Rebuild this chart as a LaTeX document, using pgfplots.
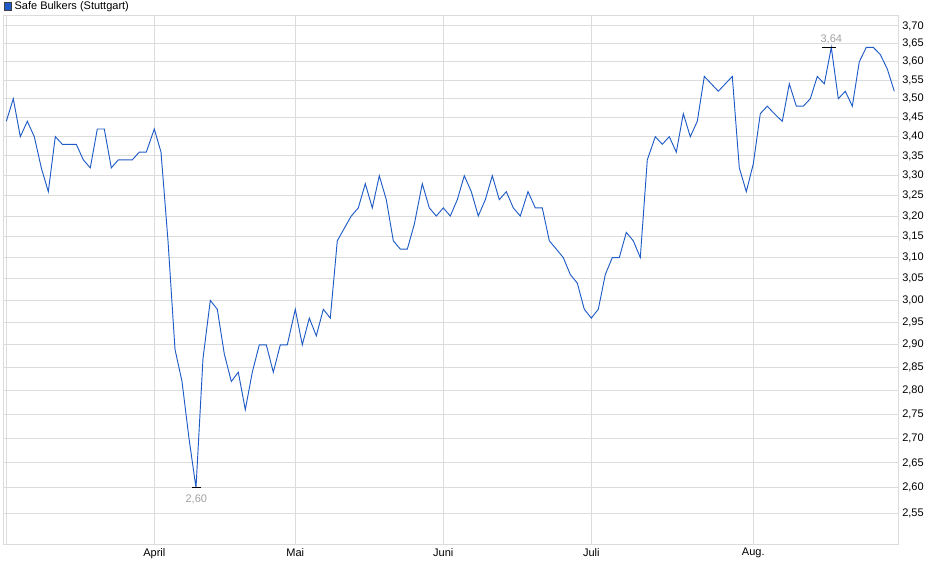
\documentclass[border=0pt]{standalone}
\usepackage{fontspec}
\setmainfont{Liberation Sans}
\usepackage{pgfplots}
\pgfplotsset{compat=1.18}

\definecolor{gridgray}{HTML}{DCDCDC}
\definecolor{lineblue}{HTML}{1F5BC6}
\definecolor{notegray}{HTML}{A0A0A0}

\newcommand{\chartfont}{\fontsize{8.25}{10}\selectfont}

\begin{document}
\begin{tikzpicture}
% page = 940 x 579 px, 1px = 0.75pt
\useasboundingbox (0,0) rectangle (705pt,-434.25pt);
\begin{axis}[
    at={(2.25pt,-408.75pt)}, anchor=south west,
    scale only axis,
    width=671.25pt, height=396.75pt,
    xmin=3, xmax=898,
    ymode=log,
    ymin=2.489, ymax=3.7284,
    clip=false,
    axis line style={draw=gridgray, line width=0.75pt},
    major tick length=0pt,
    grid=major,
    grid style={gridgray, line width=0.75pt},
    xtick={154.3,295.3,443.3,591.3,753.3},
    xticklabels={April,Mai,Juni,Juli,Aug.},
    extra x ticks={6.3},
    extra x tick labels={},
    xticklabel style={font=\chartfont, inner sep=0pt, anchor=north, yshift=-2.2pt},
    ytick={2.55,2.60,2.65,2.70,2.75,2.80,2.85,2.90,2.95,3.00,3.05,3.10,3.15,3.20,3.25,3.30,3.35,3.40,3.45,3.50,3.55,3.60,3.65,3.70},
    yticklabels={{2,55},{2,60},{2,65},{2,70},{2,75},{2,80},{2,85},{2,90},{2,95},{3,00},{3,05},{3,10},{3,15},{3,20},{3,25},{3,30},{3,35},{3,40},{3,45},{3,50},{3,55},{3,60},{3,65},{3,70}},
    yticklabel pos=right,
    yticklabel style={font=\chartfont, inner sep=0pt, anchor=west, xshift=3pt},
    legend style={at={(0,1)}, anchor=south west, draw=none, fill=none,
        inner sep=0pt, outer sep=0pt, yshift=1.3pt, xshift=0.6pt, font=\chartfont,
        cells={anchor=west},
        /tikz/every even column/.append style={column sep=3pt}},
    legend image code/.code={\draw[draw=black!75, fill=lineblue, line width=0.5pt] (0pt,-2.6pt) rectangle (5.6pt,3.2pt);},
]
\addplot[lineblue, line width=0.7pt, mark=none] coordinates {
(6.3,3.44) (13.3,3.50) (20.3,3.40) (27.3,3.44) (34.3,3.40) (41.3,3.32)
(48.3,3.26) (55.3,3.40) (62.3,3.38) (69.3,3.38) (76.3,3.38) (83.3,3.34)
(90.3,3.32) (97.3,3.42) (104.3,3.42) (111.3,3.32) (118.3,3.34) (125.3,3.34)
(132.3,3.34) (139.3,3.36) (146.3,3.36) (154.3,3.42) (161,3.36) (168,3.14)
(175,2.89) (182,2.82) (189,2.70) (196,2.60) (203,2.87) (210.3,3.00)
(217.3,2.98) (224.3,2.88) (231.3,2.82) (238.3,2.84) (245.3,2.76) (252.3,2.84)
(259.3,2.90) (266.3,2.90) (273.3,2.84) (280.3,2.90) (287.3,2.90) (295.3,2.98)
(302.3,2.90) (309.3,2.96) (316.3,2.92) (323.3,2.98) (330.3,2.96) (337.3,3.14)
(344.3,3.17) (351.3,3.20) (358.3,3.22) (365.3,3.28) (372.3,3.22) (379.3,3.30)
(386.3,3.24) (393.3,3.14) (400.3,3.12) (407.3,3.12) (414.3,3.18) (422.3,3.28)
(429.3,3.22) (436.3,3.20) (443.3,3.22) (450.3,3.20) (457.3,3.24) (464.3,3.30)
(471.3,3.26) (478.3,3.20) (485.3,3.24) (492.3,3.30) (499.3,3.24) (506.3,3.26)
(513.3,3.22) (520.3,3.20) (528,3.26) (535.3,3.22) (542.3,3.22) (549.3,3.14)
(556.3,3.12) (563.3,3.10) (570.3,3.06) (577.3,3.04) (584.3,2.98) (591.3,2.96)
(598.3,2.98) (605.3,3.06) (612.3,3.10) (619.3,3.10) (626.3,3.16) (633.3,3.14)
(640.3,3.10) (647.3,3.34) (655.3,3.40) (662.3,3.38) (669.3,3.40) (676.3,3.36)
(683.3,3.46) (690.3,3.40) (697.3,3.44) (704.3,3.56) (711.3,3.54) (718.3,3.52)
(725.3,3.54) (732.3,3.56) (739.3,3.32) (746.3,3.26) (753.3,3.33) (760.3,3.46)
(767.3,3.48) (774.3,3.46) (782.3,3.44) (789.3,3.54) (796.3,3.48) (803.3,3.48)
(810.3,3.50) (817.3,3.56) (824.3,3.54) (831.3,3.64) (838.3,3.50) (845.3,3.52)
(852.3,3.48) (859.3,3.60) (866.3,3.64) (873.3,3.64) (880.3,3.62) (887.3,3.58)
(894.3,3.52)
};
\addlegendentry{Safe Bulkers (Stuttgart)}

% low / high markers
\draw[black, line width=0.8pt] (axis cs:192,2.60) -- (axis cs:200.5,2.60);
\node[text=notegray, font=\chartfont, inner sep=0pt] at (axis cs:196.3,2.60) [yshift=-8.3pt] {2,60};
\draw[black, line width=0.8pt] (axis cs:822,3.64) -- (axis cs:836,3.64);
\node[text=notegray, font=\chartfont, inner sep=0pt] at (axis cs:831.3,3.64) [yshift=5.8pt] {3,64};
\end{axis}
\end{tikzpicture}
\end{document}
